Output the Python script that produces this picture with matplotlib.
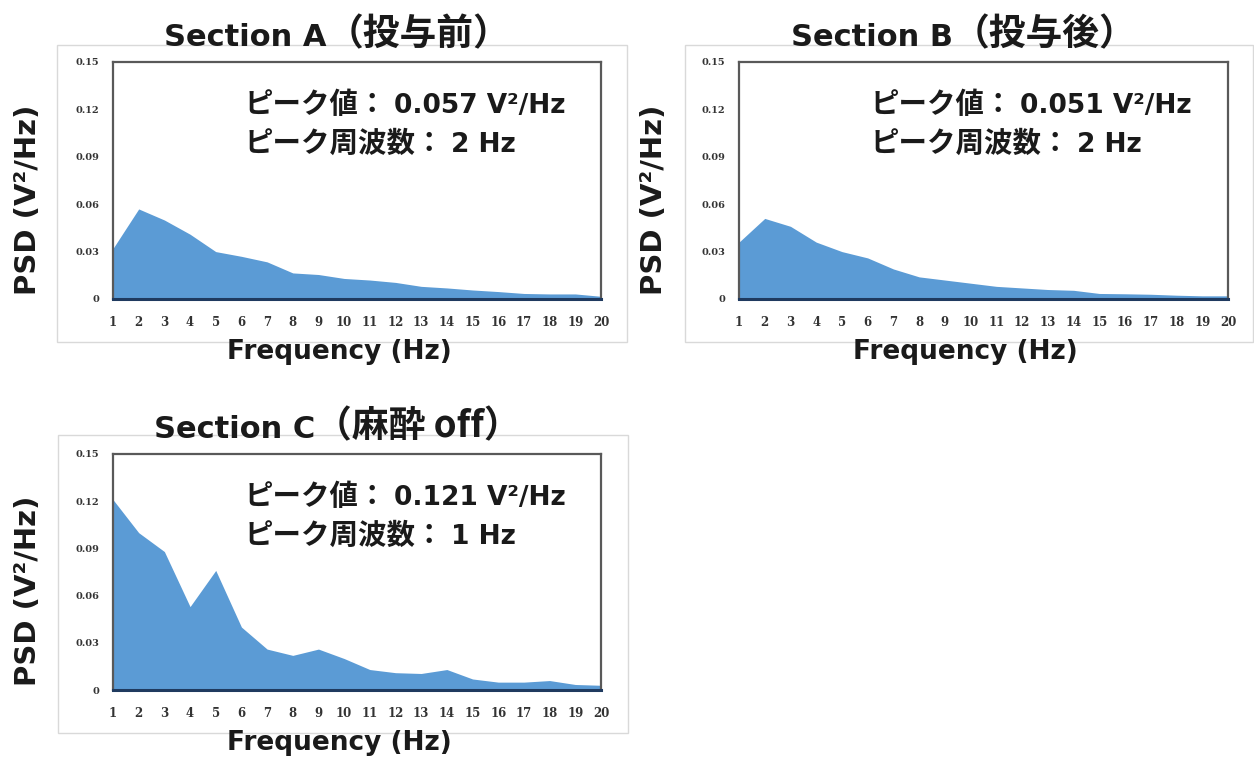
import matplotlib
matplotlib.use('Agg')
import matplotlib.pyplot as plt
from matplotlib.patches import Rectangle
from matplotlib.offsetbox import TextArea, HPacker, AnnotationBbox

plt.rcParams['font.family'] = ['DejaVu Sans', 'Noto Sans CJK JP']

freq = list(range(1, 21))
psd_a = [0.032, 0.057, 0.050, 0.041, 0.030, 0.027, 0.0235, 0.0165, 0.0155, 0.013,
         0.012, 0.0105, 0.008, 0.007, 0.0057, 0.0047, 0.0035, 0.0032, 0.0032, 0.0017]
psd_b = [0.036, 0.051, 0.046, 0.036, 0.030, 0.026, 0.019, 0.014, 0.012, 0.010,
         0.008, 0.007, 0.006, 0.0055, 0.0035, 0.0033, 0.003, 0.0024, 0.002, 0.002]
psd_c = [0.121, 0.100, 0.088, 0.053, 0.076, 0.040, 0.026, 0.022, 0.026, 0.020,
         0.013, 0.011, 0.0105, 0.013, 0.007, 0.005, 0.005, 0.006, 0.0035, 0.003]

# (latin part, japanese part) so each part can get its own font
titles = [('Section A', '（投与前）'), ('Section B', '（投与後）'), ('Section C', '（麻酔 off）')]
peak_vals = ['0.057', '0.051', '0.121']
peak_freqs = ['2', '2', '1']
yticks = [0, 0.03, 0.06, 0.09, 0.12, 0.15]
ytick_labels = ['0', '0.03', '0.06', '0.09', '0.12', '0.15']

W, H = 1254, 761
fig = plt.figure(figsize=(W / 100, H / 100), dpi=100)
TXT = '#1a1a1a'


def mixed(parts, x, y, ha, sep):
    # parts: list of (text, family, size); placed at figure pixel x,y (from top)
    boxes = [TextArea(s, textprops=dict(family=fam, size=sz, weight='bold', color=TXT))
             for s, fam, sz in parts]
    pack = HPacker(children=boxes, align='baseline', pad=0, sep=sep)
    ab = AnnotationBbox(pack, (x, H - y), xycoords='figure pixels', frameon=False,
                        box_alignment=(ha, 0.5), pad=0)
    fig.add_artist(ab)


# pixel layout: (axes left, axes top, axes right, axes bottom), frame box
panels = [
    (113, 62, 601, 299, (57, 45, 627, 342)),
    (739, 62, 1228, 299, (685, 45, 1253, 342)),
    (113, 454, 601, 690, (58, 435, 628, 733)),
]
data = [psd_a, psd_b, psd_c]

for i, (l, t, r, b, frame) in enumerate(panels):
    fx0, fy0, fx1, fy1 = frame
    fig.patches.append(Rectangle((fx0 / W, 1 - fy1 / H), (fx1 - fx0) / W, (fy1 - fy0) / H,
                                 transform=fig.transFigure, fill=False,
                                 edgecolor='#d9d9d9', linewidth=1.0, zorder=0))
    ax = fig.add_axes([l / W, 1 - b / H, (r - l) / W, (b - t) / H])
    ax.fill_between(freq, data[i], 0, color='#5b9bd5', linewidth=0)
    ax.set_xlim(1, 20)
    ax.set_ylim(0, 0.15)
    ax.set_xticks(freq)
    ax.set_xticklabels([str(f) for f in freq], fontsize=8.5, fontweight='bold',
                       family='DejaVu Serif', color='#333333')
    ax.set_yticks(yticks)
    ax.set_yticklabels(ytick_labels, fontsize=7, fontweight='bold',
                       family='DejaVu Serif', color='#333333')
    ax.tick_params(length=0, pad=12)
    ax.tick_params(axis='y', pad=10)
    for s in ['top', 'left', 'right']:
        ax.spines[s].set_color('#595959')
        ax.spines[s].set_linewidth(1.6)
    ax.spines['bottom'].set_color('#1f3a5f')
    ax.spines['bottom'].set_linewidth(2.2)

    # peak annotations
    mixed([('ピーク値：', 'Noto Sans CJK JP', 20.5),
           (peak_vals[i] + ' V²/Hz', 'DejaVu Sans', 19)], l + 132, t + 43, 0, 5)
    mixed([('ピーク周波数：', 'Noto Sans CJK JP', 20.5),
           (peak_freqs[i] + ' Hz', 'DejaVu Sans', 19)], l + 132, t + 82, 0, 5)

    cx = (l + r) / 2
    mixed([(titles[i][0], 'DejaVu Sans', 22), (titles[i][1], 'Noto Sans CJK JP', 26.5)],
          cx - 20, t - 27, 0.5, 0)
    fig.text((cx - 18) / W, 1 - (b + 53) / H, 'Frequency (Hz)', fontsize=19, fontweight='bold',
             ha='center', va='center', color=TXT)
    fig.text((l - 85) / W, 1 - ((t + b) / 2 + 19) / H, 'PSD (V²/Hz)', fontsize=21,
             fontweight='bold', rotation=90, ha='center', va='center', color=TXT)

fig.savefig('out.png', dpi=100)
